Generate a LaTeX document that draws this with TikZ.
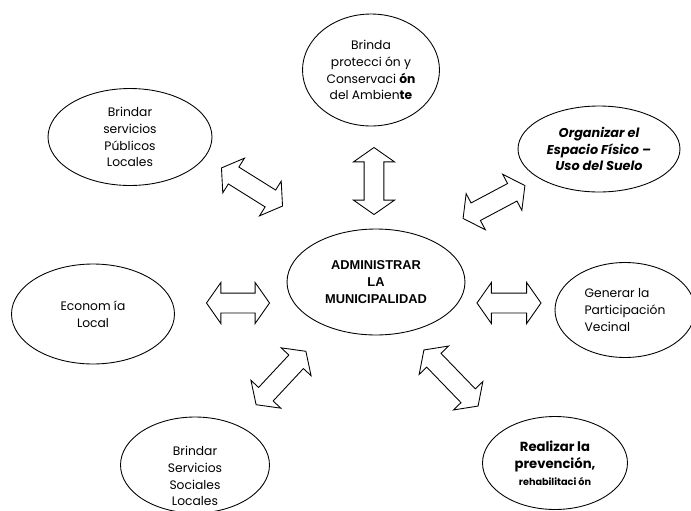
\documentclass[tikz,border=0pt]{standalone}
\usepackage{fontspec}
\setmainfont{Poppins}
\newfontfamily\arialfont{Liberation Sans}
\usetikzlibrary{shapes.geometric,shapes.arrows}

\tikzset{
  bubble/.style={ellipse,draw,line width=0.5pt,inner sep=0pt,align=center,
    font=\fontsize{7}{9.6}\selectfont},
  twoway/.style={double arrow,draw,line width=0.5pt,inner sep=0.19cm,
    minimum width=0pt,double arrow head extend=0.21cm,double arrow tip angle=110}
}

\begin{document}
\begin{tikzpicture}[x=0.02cm,y=-0.02cm]
        \useasboundingbox (0,0) rectangle (691,511);

        % centre
        \node[bubble,minimum width=3.56cm,minimum height=2.12cm,
              font=\arialfont\bfseries\fontsize{7.3}{9.6}\selectfont]
              (admin) at (376,282) {ADMINISTRAR\\LA\\MUNICIPALIDAD};

        % ellipses round it
        \node[bubble,minimum width=2.74cm,minimum height=2.24cm]
              (ambiente) at (371,70)
              {Brinda\\protecci ón y\\Conservaci \textbf{ón}\\del Ambien\textbf{te}};
        \node[bubble,minimum width=3.28cm,minimum height=1.94cm]
              (publicos) at (130,137) {Brindar\\servicios\\Públicos\\Locales};
        \node[bubble,minimum width=3.24cm,minimum height=1.72cm,
              font=\bfseries\itshape\fontsize{7.3}{9.6}\selectfont]
              (suelo) at (599,149) {Organizar el\\Espacio Físico –\\Uso del Suelo};
        \node[bubble,minimum width=3.26cm,minimum height=2cm]
              (economia) at (93,314) {Econom ía\\Local};
        \node[bubble,minimum width=2.8cm,minimum height=1.9cm,align=left]
              (vecinal) at (625,310) {Generar la\\Participación\\Vecinal};
        \node[bubble,minimum width=2.98cm,minimum height=1.92cm]
              (sociales) at (195,465) {};
        \node[align=center,inner sep=0pt,font=\fontsize{7}{9.6}\selectfont]
              (socialestxt) at (195,476) {Brindar\\Servicios\\Sociales\\Locales};
        \node[bubble,minimum width=2.9cm,minimum height=1.86cm,
              font=\bfseries\fontsize{7.5}{9.6}\selectfont]
              (prevencion) at (555,463)
              {Realizar la\\prevención,\\{\fontsize{5.5}{7}\selectfont rehabilitaci ón}};

        % block arrows
        \node[twoway,rotate=90,minimum height=1.34cm] (aup) at (374,181) {};
        \node[twoway,rotate=-32,minimum height=1.44cm] (aul) at (252,187) {};
        \node[twoway,rotate=28,minimum height=1.40cm] (aur) at (494,202) {};
        \node[twoway,minimum height=1.26cm] (al) at (238,303) {};
        \node[twoway,minimum height=1.28cm] (ar) at (509,303) {};
        \node[twoway,rotate=47,minimum height=1.46cm] (adl) at (281,378) {};
        \node[twoway,rotate=-46,minimum height=1.56cm] (adr) at (451,378) {};
\end{tikzpicture}
\end{document}
